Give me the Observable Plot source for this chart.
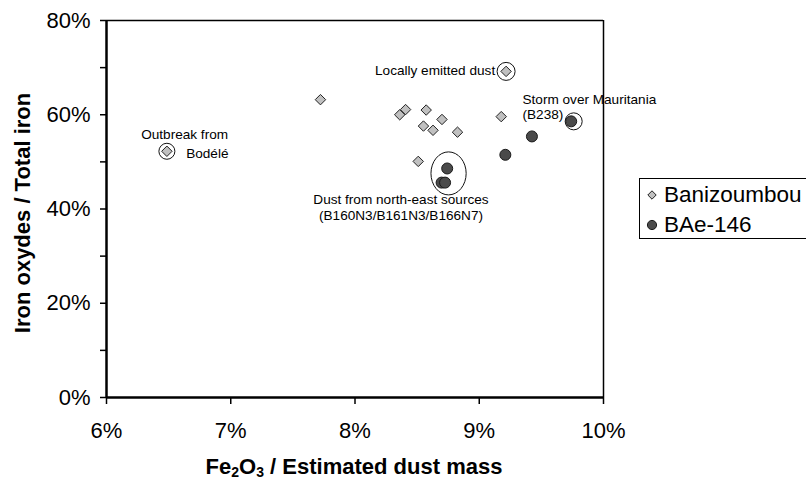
<!DOCTYPE html>
<html>
<head>
<meta charset="utf-8">
<script src="https://cdn.jsdelivr.net/npm/d3@7"></script>
<script src="https://cdn.jsdelivr.net/npm/@observablehq/plot@0.6"></script>
<style>
  html, body { margin: 0; padding: 0; background: #fff; }
  #wrap { position: relative; width: 806px; height: 480px; overflow: hidden; font-family: "Liberation Sans", Arial, sans-serif; }
  #legend { position: absolute; left: 639px; top: 178px; width: 220px; height: 61px; border: 1px solid #000; background: #fff; box-sizing: border-box; }
  .item { position: absolute; left: 6px; font-size: 22.5px; line-height: 22px; display: flex; align-items: center; white-space: nowrap; }
  .item svg { margin-right: 6px; }
</style>
</head>
<body>
<div id="wrap"></div>
<script>
// ---- data (percent values) ----
const baniX = [6.486, 7.722, 8.360, 8.407, 8.573, 8.551, 8.628, 8.700, 8.825, 8.509, 9.177, 9.216];
const baniY = [52.25, 63.2, 60.0, 61.1, 61.0, 57.6, 56.7, 59.0, 56.3, 50.1, 59.6, 69.2];
const baeX = [8.742, 8.697, 8.725, 9.210, 9.424, 9.740];
const baeY = [48.6, 45.6, 45.6, 51.5, 55.4, 58.6];

const ringX = [6.486, 9.216, 9.76];
const ringY = [52.25, 69.2, 58.6];
const ringR = [8, 9, 8.5];

const groupX = [8.757];
const groupY = [47.45];

const annoText = ["Locally emitted dust", "Storm over Mauritania", "(B238)", "Outbreak from", "Bodélé", "Dust from north-east sources", "(B160N3/B161N3/B166N7)"];
const annoX = [9.128, 9.348, 9.348, 6.279, 6.641, 8.370, 8.370];
const annoY = [69.4, 63.24, 60.0, 55.81, 51.78, 42.02, 38.62];
const annoAnchor = ["end", "start", "start", "start", "start", "middle", "middle"];

const xTicks = [6, 7, 8, 9, 10];
const yTicksMajor = [0, 20, 40, 60, 80];
const yTicksMinor = [0, 10, 20, 30, 40, 50, 60, 70, 80];

const seriesNames = ["Banizoumbou", "BAe-146"];

// ---- build tables ----
const bani = baniX.map((x, i) => ({x: x / 100, y: baniY[i] / 100}));
const bae = baeX.map((x, i) => ({x: x / 100, y: baeY[i] / 100}));
const rings = ringX.map((x, i) => ({x: x / 100, y: ringY[i] / 100, r: ringR[i]}));
const groups = groupX.map((x, i) => ({x: x / 100, y: groupY[i] / 100}));
const annos = annoText.map((t, i) => ({t, x: annoX[i] / 100, y: annoY[i] / 100, a: annoAnchor[i]}));

const pct = d3.format(".0%");

const plot = Plot.plot({
  width: 806,
  height: 480,
  marginLeft: 106,
  marginRight: 203,
  marginTop: 20,
  marginBottom: 83,
  style: {fontFamily: '"Liberation Sans", Arial, sans-serif', fontSize: "22px", color: "#000", background: "#fff", overflow: "visible"},
  x: {domain: [0.06, 0.10]},
  y: {domain: [0, 0.8]},
  r: {type: "identity"},
  marks: [
    Plot.axisX({ticks: xTicks.map(v => v / 100), tickFormat: pct, tickSize: 7, tickPadding: 18, label: null, fontSize: 22, stroke: "#000", strokeWidth: 1.5}),
    Plot.axisY({ticks: yTicksMinor.map(v => v / 100), tickFormat: () => "", tickSize: 6, label: null, stroke: "#000", strokeWidth: 1.5}),
    Plot.axisY({ticks: yTicksMajor.map(v => v / 100), tickFormat: pct, tickSize: 0, tickPadding: 16, label: null, fontSize: 22}),
    Plot.ruleY([0.8], {stroke: "#000", strokeWidth: 1.5}),
    Plot.ruleX([0.10], {stroke: "#000", strokeWidth: 1.5}),
    Plot.ruleY([0], {stroke: "#000", strokeWidth: 2.5}),
    Plot.ruleX([0.06], {stroke: "#000", strokeWidth: 2.5}),
    Plot.dot(rings, {x: "x", y: "y", r: "r", stroke: "#111", strokeWidth: 1, fill: "none"}),
    Plot.dot(groups, {x: "x", y: "y", r: 1, stroke: "#111", fill: "none",
      render: (index, scales, values, dims, context) => {
        const g = d3.create("svg:g");
        for (const i of index) {
          g.append("ellipse")
            .attr("cx", scales.x(groups[i].x))
            .attr("cy", scales.y(groups[i].y))
            .attr("rx", 17.6)
            .attr("ry", 21.5)
            .attr("fill", "none")
            .attr("stroke", "#111")
            .attr("stroke-width", 1);
        }
        return g.node();
      }}),
    Plot.dot(bani, {x: "x", y: "y", symbol: "diamond2", r: 4.7, fill: "#c0c0c0", stroke: "#222", strokeWidth: 1}),
    Plot.dot(bae, {x: "x", y: "y", r: 5.5, fill: "#4a4a4a", stroke: "#1a1a1a", strokeWidth: 1}),
    Plot.text(annos, {x: "x", y: "y", text: "t", textAnchor: "start", fontSize: 13.6, fill: "#000", filter: d => d.a === "start"}),
    Plot.text(annos, {x: "x", y: "y", text: "t", textAnchor: "end", fontSize: 13.6, fill: "#000", filter: d => d.a === "end"}),
    Plot.text(annos, {x: "x", y: "y", text: "t", textAnchor: "middle", fontSize: 13.6, fill: "#000", filter: d => d.a === "middle"})
  ]
});

// axis titles (bold, with subscripts)
const svg = d3.select(plot);
const xt = svg.append("text")
  .attr("x", 354).attr("y", 474)
  .attr("text-anchor", "middle")
  .attr("font-weight", "bold")
  .attr("font-size", 22)
  .attr("fill", "#000");
xt.append("tspan").text("Fe");
xt.append("tspan").attr("font-size", 14).attr("dy", 3).text("2");
xt.append("tspan").attr("dy", -3).text("O");
xt.append("tspan").attr("font-size", 14).attr("dy", 3).text("3");
xt.append("tspan").attr("dy", -3).text(" / Estimated dust mass");

svg.append("text")
  .attr("transform", "translate(30,213) rotate(-90)")
  .attr("text-anchor", "middle")
  .attr("font-weight", "bold")
  .attr("font-size", 22)
  .attr("fill", "#000")
  .text("Iron oxydes / Total iron");

const wrap = document.getElementById("wrap");
wrap.appendChild(plot);

// legend
const legend = document.createElement("div");
legend.id = "legend";
const diamondSvg = '<svg width="12" height="12" viewBox="-6 -6 12 12"><path d="M0,-4.2L4.2,0L0,4.2L-4.2,0Z" fill="#c0c0c0" stroke="#222" stroke-width="1"/></svg>';
const circleSvg = '<svg width="12" height="12" viewBox="-6 -6 12 12"><circle r="4.6" fill="#4a4a4a" stroke="#1a1a1a" stroke-width="1"/></svg>';
legend.innerHTML =
  `<div class="item" style="top:5px">${diamondSvg}<span>${seriesNames[0]}</span></div>` +
  `<div class="item" style="top:35px">${circleSvg}<span>${seriesNames[1]}</span></div>`;
wrap.appendChild(legend);
</script>
</body>
</html>
